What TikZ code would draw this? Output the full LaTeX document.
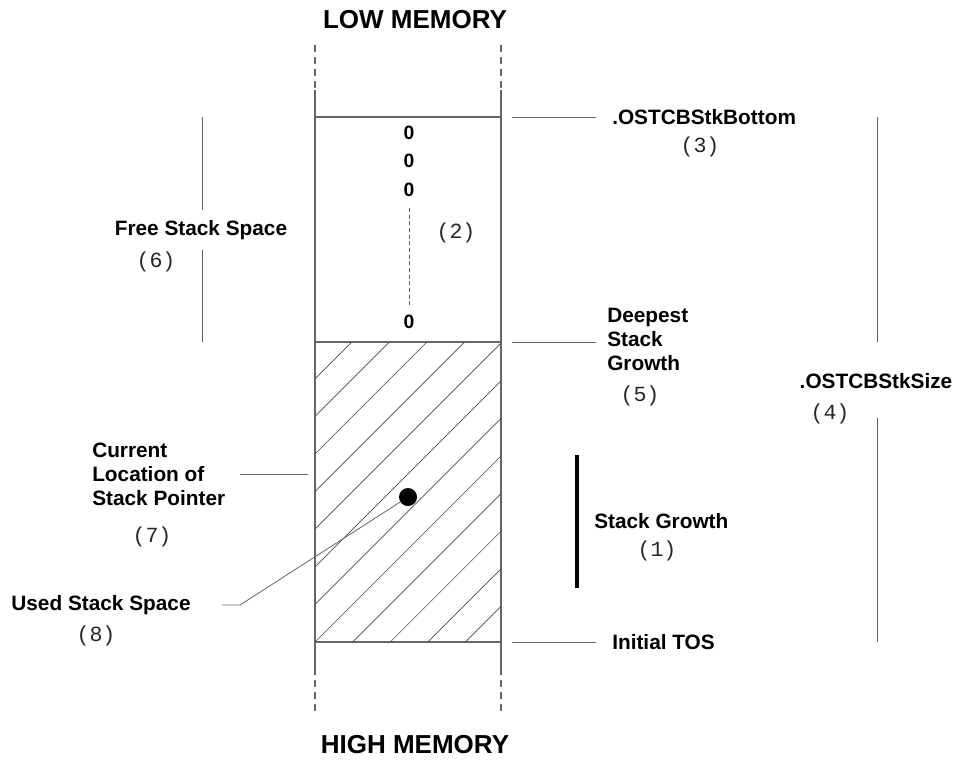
\documentclass[tikz,border=0pt]{standalone}
\usepackage{fontspec}
\setmainfont{Liberation Sans}
\newfontfamily\codefont{Liberation Mono}
\usetikzlibrary{positioning}

\begin{document}
\begin{tikzpicture}[
    x=0.75pt, y=-0.75pt,
    title/.style   = {font=\fontsize{19.5}{22}\selectfont\bfseries, inner sep=0pt},
    lbl/.style     = {font=\fontsize{15.6}{18}\selectfont\bfseries, inner sep=0pt, align=left},
    num/.style     = {font=\codefont\fontsize{16.2}{18}\selectfont, text=black!85, inner sep=0pt},
    zero/.style    = {font=\fontsize{14.5}{16}\selectfont\bfseries, inner sep=0pt},
    wall/.style    = {draw=black!60, line width=0.8pt},
    leader/.style  = {draw=black!60, line width=0.6pt},
    hatch/.style   = {draw=black!70, line width=0.5pt},
]
\useasboundingbox (0,0) rectangle (955,761);

% --- the stack column ---
\draw[wall, dashed, dash pattern=on 5pt off 4pt] (315,45) -- (315,90);
\draw[wall, dashed, dash pattern=on 5pt off 4pt] (501,45) -- (501,90);
\draw[wall] (315,90) -- (315,668);
\draw[wall] (501,90) -- (501,668);
\draw[wall, dashed, dash pattern=on 5pt off 4pt] (315,668) -- (315,715);
\draw[wall, dashed, dash pattern=on 5pt off 4pt] (501,668) -- (501,715);
\draw[wall] (315,117) -- (501,117);
\draw[wall] (315,342) -- (501,342);
\draw[wall] (315,642) -- (501,642);

% --- used part, hatched ---
\begin{scope}
    \clip (315,342) rectangle (501,642);
    \foreach \k in {-8,...,6}
        \draw[hatch] ({957+37.6*\k-642},642) -- ({957+37.6*\k-342},342);
\end{scope}

\node[title] (low)  at (415,20)  {LOW MEMORY};
\node[title] (high) at (415,745) {HIGH MEMORY};

% --- free part, filled with zeros ---
\node[zero] (z1) at (409,133) {0};
\node[zero] (z2) at (409,161) {0};
\node[zero] (z3) at (409,190) {0};
\node[zero] (z4) at (409,322) {0};
\draw[leader, dashed, dash pattern=on 3pt off 2pt] (409,208) -- (409,305);
\node[num] (n2) at (456,233) {(2)};

\node[circle, fill=black, minimum size=13.5pt, inner sep=0pt] (sp) at (408,497) {};

% --- right side ---
\coordinate (b1) at (512,117); \coordinate (b2) at (596,117);
\draw[leader] (b1) -- (b2);
\node[lbl, anchor=west] (bottom) at (612,117) {.OSTCBStkBottom};
\node[num] (n3) at (700,147) {(3)};

\coordinate (d1) at (512,342); \coordinate (d2) at (596,342);
\draw[leader] (d1) -- (d2);
\node[lbl, anchor=west] (deep) at (607,339) {Deepest\\Stack\\Growth};
\node[num] (n5) at (640,396) {(5)};

\coordinate (g1) at (577,455); \coordinate (g2) at (577,588);
\draw[line width=3pt] (g1) -- (g2);
\node[lbl, anchor=west] (growth) at (594,521) {Stack Growth};
\node[num] (n1) at (657,551) {(1)};

\coordinate (t1) at (512,642); \coordinate (t2) at (596,642);
\draw[leader] (t1) -- (t2);
\node[lbl, anchor=west] (tos) at (612,642) {Initial TOS};

\node[lbl] (size) at (876,381) {.OSTCBStkSize};
\node[num] (n4) at (830,414) {(4)};
\coordinate (s1) at (877,117); \coordinate (s2) at (877,642);
\draw[leader] (s1) -- (877,342);
\draw[leader] (877,418) -- (s2);

% --- left side ---
\node[lbl] (free) at (201,230) {Free Stack Space};
\node[num] (n6) at (156,262) {(6)};
\coordinate (f1) at (202,117); \coordinate (f2) at (202,342);
\draw[leader] (f1) -- (202,210);
\draw[leader] (202,250) -- (f2);

\node[lbl, anchor=west] (cur) at (92,474) {Current\\Location of\\Stack Pointer};
\node[num] (n7) at (152,537) {(7)};
\coordinate (c1) at (240,474); \coordinate (c2) at (308,474);
\draw[leader] (c1) -- (c2);

\node[lbl] (used) at (101,605) {Used Stack Space};
\node[num] (n8) at (96,636) {(8)};
\coordinate (u1) at (222,605);
\draw[leader] (u1) -- (240,605) -- (sp);

\end{tikzpicture}
\end{document}
